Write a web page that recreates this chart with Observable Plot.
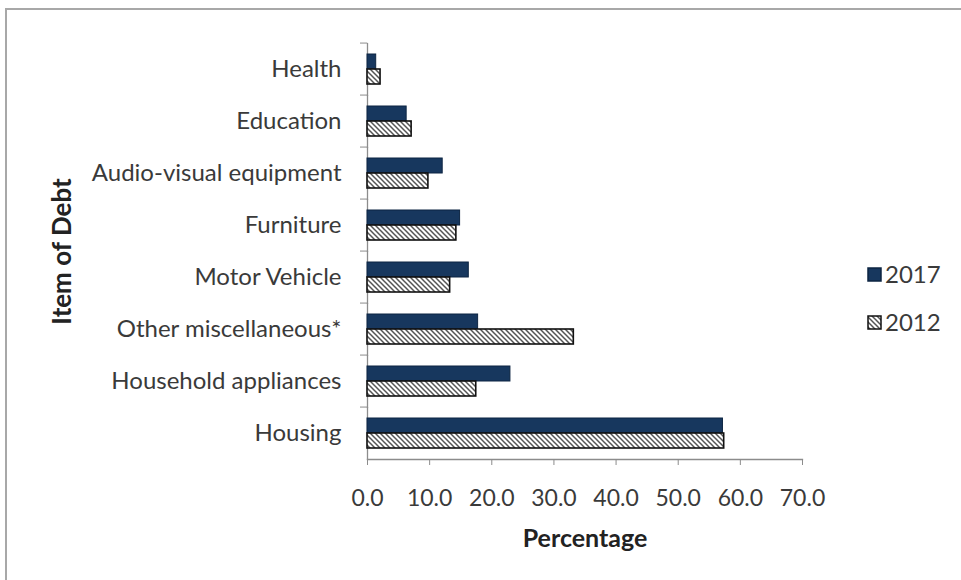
<!DOCTYPE html>
<html>
<head>
<meta charset="utf-8">
<script src="https://cdn.jsdelivr.net/npm/d3@7"></script>
<script src="https://cdn.jsdelivr.net/npm/@observablehq/plot@0.6"></script>
<style>
  html, body { margin: 0; padding: 0; background: #fff; }
  #wrap { position: relative; width: 961px; height: 580px; overflow: hidden; background: #fff; font-family: Lato, "Open Sans", sans-serif; }
  #frame { position: absolute; left: 5px; top: 8px; width: 980px; height: 600px; border-top: 2px solid #a8a8a8; border-left: 2px solid #a8a8a8; box-sizing: border-box; }
  #chart { position: absolute; left: 0; top: 0; }
  #legend { position: absolute; left: 860px; top: 251px; }
</style>
</head>
<body>
<div id="wrap">
  <div id="frame"></div>
  <div id="chart"></div>
  <div id="legend"></div>
</div>
<script>
const categories = ["Health", "Education", "Audio-visual equipment", "Furniture", "Motor Vehicle", "Other miscellaneous*", "Household appliances", "Housing"];
const values2017 = [1.4, 6.3, 12.1, 14.9, 16.3, 17.8, 23.0, 57.2];
const values2012 = [2.1, 7.1, 9.8, 14.3, 13.3, 33.2, 17.5, 57.4];
const years = ["2017", "2012"];
const xTicks = [0, 10, 20, 30, 40, 50, 60, 70];
const xLabel = "Percentage";
const yLabel = "Item of Debt";

const rows2017 = categories.map((c, i) => ({category: c, year: years[0], value: values2017[i]}));
const rows2012 = categories.map((c, i) => ({category: c, year: years[1], value: values2012[i]}));

const W = 961, H = 580, mL = 367, mR = 159, mT = 39, mB = 118;
const band = (H - mT - mB) / categories.length;
const axisGray = "#8c8c8c";
const textColor = "#3a3a3a";
const font = "Lato, 'Open Sans', sans-serif";

const chart = Plot.plot({
  width: W, height: H,
  marginLeft: mL, marginRight: mR, marginTop: mT, marginBottom: mB,
  style: {fontFamily: font, fontSize: "23px", color: textColor, background: "transparent", overflow: "visible"},
  x: {domain: [0, 70]},
  y: {domain: years, paddingInner: 0, paddingOuter: 0.7, axis: null},
  fy: {domain: categories, padding: 0},
  marks: [
    Plot.frame({anchor: "left", stroke: axisGray, strokeWidth: 1.3}),
    Plot.frame({anchor: "bottom", facetAnchor: "bottom", stroke: axisGray, strokeWidth: 1.3}),
    Plot.barX(rows2017, {fy: "category", y: "year", x: "value", fill: "#17375E", stroke: "#0d2542", strokeWidth: 1}),
    Plot.barX(rows2012, {fy: "category", y: "year", x: "value", fill: "url(#hatch)", stroke: "#111", strokeWidth: 1.6}),
    Plot.axisX({ticks: xTicks, tickFormat: d => d.toFixed(1), tickSize: 6, tickPadding: 24, stroke: axisGray, fill: textColor, label: null, fontSize: 23}),
    Plot.axisX({ticks: [], tickSize: 0, label: xLabel, labelAnchor: "center", labelArrow: "none", labelOffset: 87, fontWeight: "bold", fontSize: 25, fill: "#222"}),
    Plot.axisFy({anchor: "left", tickSize: 7, text: null, label: null, dy: -band / 2, stroke: axisGray}),
    Plot.axisFy({anchor: "left", tickSize: 0, tickPadding: 26, label: null, fill: textColor, fontSize: 24}),
    Plot.axisFy({anchor: "left", ticks: [], tickSize: 0, text: null, label: yLabel, labelAnchor: "center", labelArrow: "none", labelOffset: 315, fontWeight: "bold", fontSize: 26, fill: "#222"})
  ]
});

const defs = d3.select(chart).insert("defs", ":first-child");
const pat = defs.append("pattern").attr("id", "hatch").attr("patternUnits", "userSpaceOnUse").attr("width", 5).attr("height", 5);
pat.append("rect").attr("width", 5).attr("height", 5).attr("fill", "#fff");
pat.append("path").attr("d", "M-1,-1L6,6M-1,4L1,6M4,-1L6,1").attr("stroke", "#555").attr("stroke-width", 1.5);

document.getElementById("chart").appendChild(chart);

// legend
const lg = d3.select("#legend").append("svg").attr("width", 100).attr("height", 90)
  .style("font-family", font);
const legendItems = [
  {label: years[0], fill: "#17375E", stroke: "#0d2542"},
  {label: years[1], fill: "url(#hatch)", stroke: "#111"}
];
legendItems.forEach((d, i) => {
  const g = lg.append("g").attr("transform", `translate(0,${i * 48})`);
  g.append("rect").attr("x", 8).attr("y", 17).attr("width", 13).attr("height", 13)
    .attr("fill", d.fill).attr("stroke", d.stroke).attr("stroke-width", 1.5);
  g.append("text").attr("x", 25).attr("y", 23.5).attr("dy", "0.35em")
    .attr("font-size", 24).attr("fill", textColor).text(d.label);
});
</script>
</body>
</html>
